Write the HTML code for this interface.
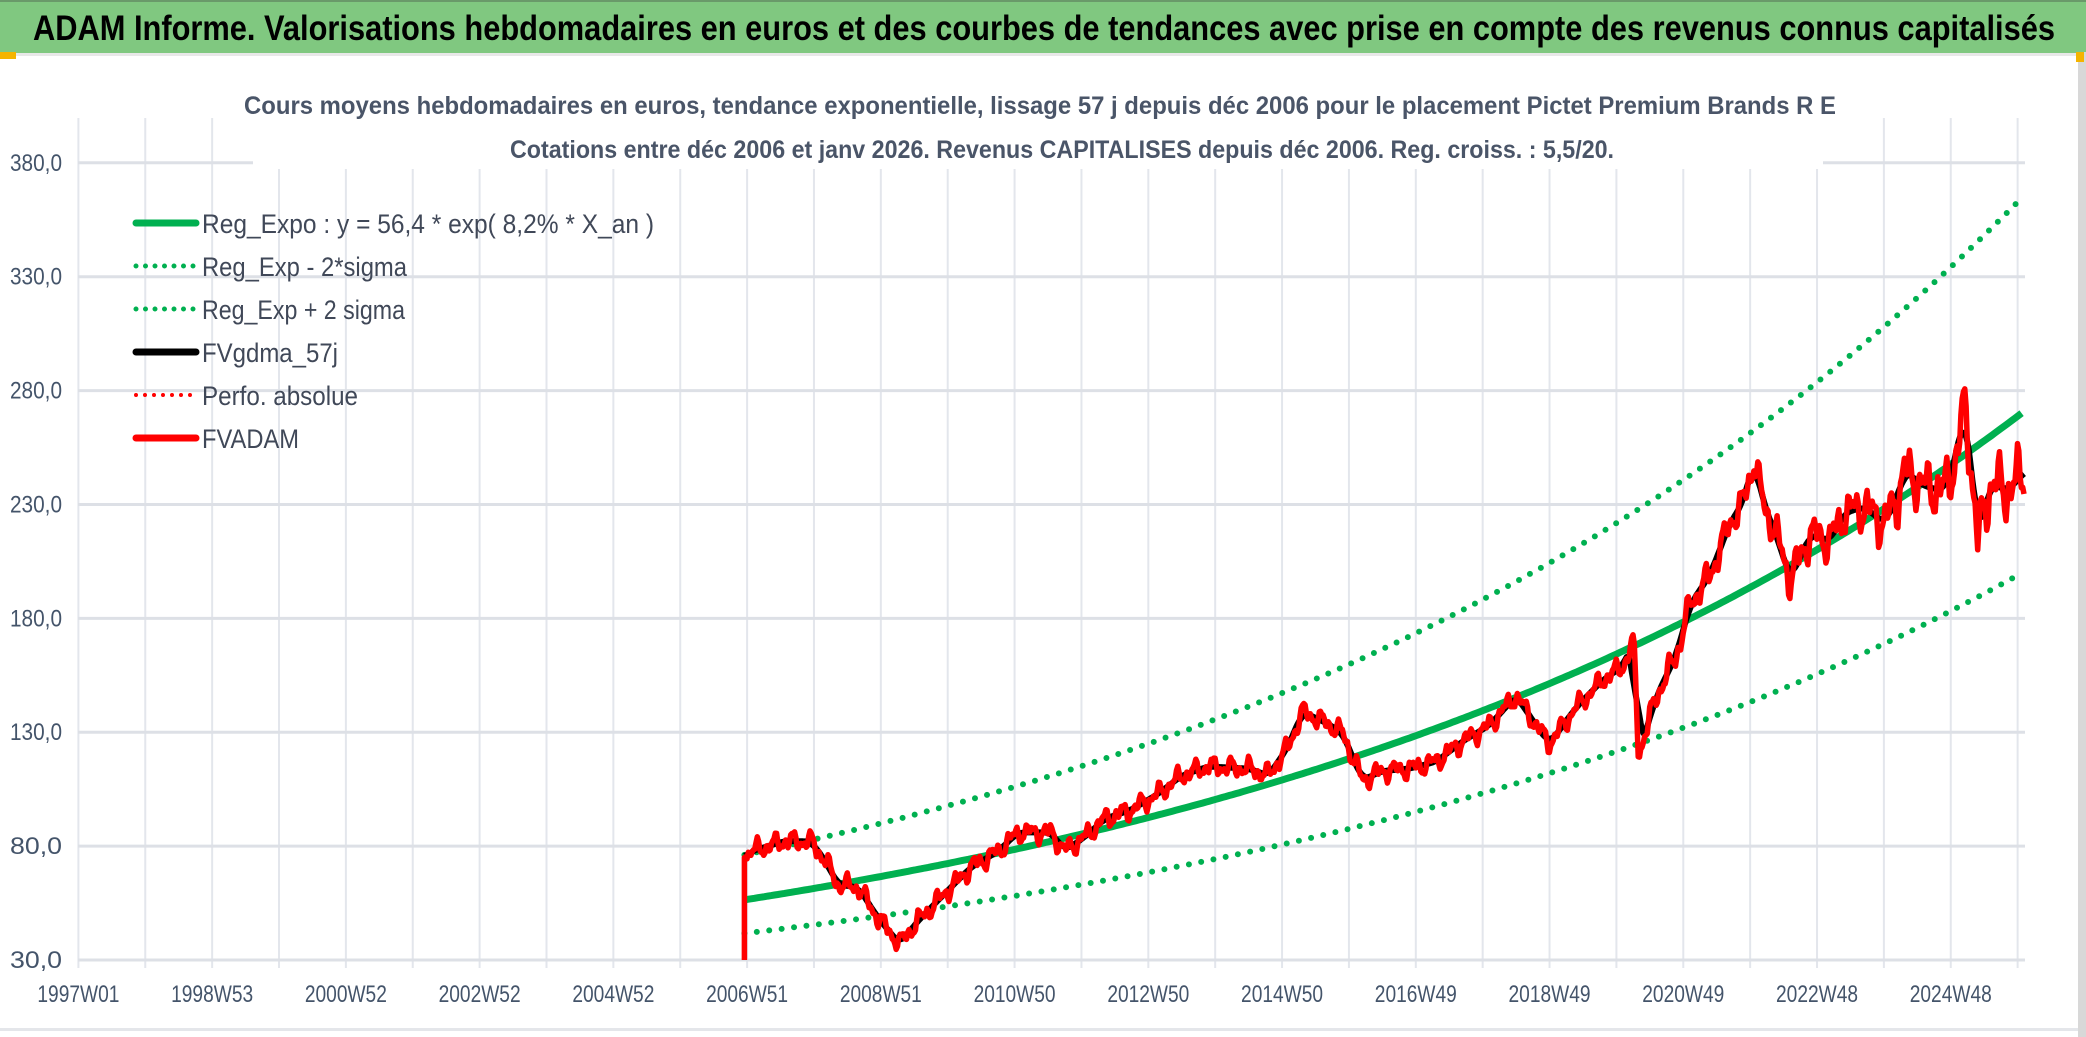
<!DOCTYPE html>
<html><head><meta charset="utf-8"><style>
html,body{margin:0;padding:0;background:#fff;}
svg{display:block;}
</style></head><body>
<svg id="c" width="2086" height="1037" xmlns="http://www.w3.org/2000/svg" font-family="'Liberation Sans', sans-serif">
<rect x="0" y="0" width="2086" height="1037" fill="#fff"/>
<rect x="0" y="0" width="2086" height="53" fill="#80C880"/>
<rect x="0" y="0" width="2086" height="2" fill="#6a9a6a"/>
<rect x="0" y="53" width="2080" height="3" fill="#e8e8e8"/>
<rect x="0" y="52" width="16" height="7" fill="#F4B400"/>
<rect x="2078" y="52" width="8" height="985" fill="#d8d8d8"/>
<rect x="2076" y="52" width="8" height="10" fill="#F4B400"/>
<rect x="0" y="1028" width="2078" height="3" fill="#e4e6ea"/>
<text x="33" y="40" font-size="35" font-weight="bold" fill="#000" textLength="2022" lengthAdjust="spacingAndGlyphs">ADAM Informe. Valorisations hebdomadaires en euros et des courbes de tendances avec prise en compte des revenus connus capitalisés</text>
<g id="grid"></g>
<rect x="253" y="95" width="1570" height="73" fill="#fff"/>
<text x="1040" y="114" font-size="25" font-weight="bold" fill="#4A5568" text-anchor="middle" textLength="1592" lengthAdjust="spacingAndGlyphs">Cours moyens hebdomadaires en euros, tendance exponentielle, lissage 57 j depuis déc 2006 pour le placement Pictet Premium Brands R E</text>
<text x="1062" y="158" font-size="25" font-weight="bold" fill="#4A5568" text-anchor="middle" textLength="1104" lengthAdjust="spacingAndGlyphs">Cotations entre déc 2006 et janv 2026. Revenus CAPITALISES depuis déc 2006. Reg. croiss. : 5,5/20.</text>
<g id="labels" font-size="24" fill="#44546A"></g>
<g id="series"></g>
<g font-size="25" fill="#404858">
<line x1="136" y1="223" x2="196" y2="223" stroke="#00B050" stroke-width="7" stroke-linecap="round"/>
<line x1="136" y1="266" x2="196" y2="266" stroke="#00B050" stroke-width="5" stroke-linecap="round" stroke-dasharray="0 9.5"/>
<line x1="136" y1="309" x2="196" y2="309" stroke="#00B050" stroke-width="5" stroke-linecap="round" stroke-dasharray="0 9.5"/>
<line x1="136" y1="352" x2="196" y2="352" stroke="#000" stroke-width="7" stroke-linecap="round"/>
<line x1="136" y1="395" x2="194" y2="395" stroke="#f00" stroke-width="4" stroke-linecap="round" stroke-dasharray="0 9"/>
<line x1="136" y1="438" x2="196" y2="438" stroke="#f00" stroke-width="7" stroke-linecap="round"/>
<text x="202" y="233" font-size="27" textLength="452" lengthAdjust="spacingAndGlyphs">Reg_Expo : y = 56,4 * exp( 8,2% *  X_an )</text>
<text x="202" y="276" font-size="27" textLength="205" lengthAdjust="spacingAndGlyphs">Reg_Exp - 2*sigma</text>
<text x="202" y="319" font-size="27" textLength="203" lengthAdjust="spacingAndGlyphs">Reg_Exp + 2 sigma</text>
<text x="202" y="362" font-size="27" textLength="136" lengthAdjust="spacingAndGlyphs">FVgdma_57j</text>
<text x="202" y="405" font-size="27" textLength="156" lengthAdjust="spacingAndGlyphs">Perfo. absolue</text>
<text x="202" y="448" font-size="27" textLength="97" lengthAdjust="spacingAndGlyphs">FVADAM</text>
</g>
</svg>
<script>
(function(){
var NS="http://www.w3.org/2000/svg";
function el(p,t,a,txt){var e=document.createElementNS(NS,t);for(var k in a)e.setAttribute(k,a[k]);if(txt!=null)e.textContent=txt;p.appendChild(e);return e;}
var grid=document.getElementById('grid'),labels=document.getElementById('labels'),ser=document.getElementById('series');
var X0=78.4,DX=66.87;
function X(yr){return X0+(yr-1997)*DX;}
function Y(v){return 960-(v-30)*2.2777;}
for(var i=0;i<=29;i++){var x=X0+i*DX;var top=(x<253||x>1823)?118:169;
 el(grid,'line',{x1:x,y1:top,x2:x,y2:968,stroke:'#E3E6EC','stroke-width':2});}
for(var j=0;j<=7;j++){var v=30+50*j,y=Y(v);var x1=78,x2=2025;
 if(j==7){el(grid,'line',{x1:78,y1:y,x2:253,y2:y,stroke:'#DDE0E6','stroke-width':3});el(grid,'line',{x1:1823,y1:y,x2:2025,y2:y,stroke:'#DDE0E6','stroke-width':3});}
 else el(grid,'line',{x1:x1,y1:y,x2:x2,y2:y,stroke:'#DDE0E6','stroke-width':3});
 el(labels,'text',{x:62,y:y+8,'text-anchor':'end',textLength:52,lengthAdjust:'spacingAndGlyphs'},v.toFixed(1).replace('.',','));}
var xl=['1997W01','1998W53','2000W52','2002W52','2004W52','2006W51','2008W51','2010W50','2012W50','2014W50','2016W49','2018W49','2020W49','2022W48','2024W48'];
for(var k=0;k<xl.length;k++){el(labels,'text',{x:X0+k*2*DX,y:1002,'text-anchor':'middle',textLength:82,lengthAdjust:'spacingAndGlyphs'},xl[k]);}
var t0=2006.96,t1=2026.1;
function reg(f){var d='';for(var t=t0;t<=t1+0.001;t+=0.05){d+=(d?'L':'M')+X(t).toFixed(1)+','+Y(f*56.4*Math.exp(0.082*(t-t0))).toFixed(1);}return d;}
el(ser,'path',{d:reg(0.74),fill:'none',stroke:'#00B050','stroke-width':6,'stroke-linecap':'round','stroke-dasharray':'0 12.5'});
el(ser,'path',{d:reg(1.35),fill:'none',stroke:'#00B050','stroke-width':6,'stroke-linecap':'round','stroke-dasharray':'0 12.5'});
el(ser,'path',{d:reg(1),fill:'none',stroke:'#00B050','stroke-width':7});
var K=[[2006.97,75],[2007.05,77.6],[2007.57,82.3],[2007.96,82],[2008.16,74],[2008.36,63],[2008.66,62],[2008.96,48.4],[2009.2,40],[2009.28,37],[2009.55,47],[2009.95,59],[2010.35,70.8],[2010.75,77.6],[2011.05,86],[2011.55,86],[2011.75,78],[2012.05,84],[2012.35,92],[2012.75,96],[2013.15,103],[2013.5,111],[2013.9,115],[2014.5,114],[2014.8,111],[2015.1,124],[2015.3,139],[2015.6,135],[2015.9,130],[2016.1,116],[2016.2,109],[2016.5,113],[2016.9,114],[2017.3,117],[2017.7,126],[2018.1,133],[2018.5,146],[2018.8,133],[2019.0,125],[2019.4,141],[2019.8,153],[2020.1,159],[2020.26,170],[2020.33,120],[2020.6,146],[2020.9,164],[2021.1,186],[2021.4,199],[2021.7,222],[2021.9,231],[2022.06,250],[2022.2,230],[2022.4,216],[2022.6,197],[2022.9,217],[2023.2,214],[2023.4,226],[2023.7,229],[2024.0,222],[2024.2,232],[2024.3,245],[2024.6,238],[2024.9,236],[2025.1,252],[2025.2,274],[2025.3,250],[2025.4,214],[2025.6,240],[2025.8,236],[2026.0,240],[2026.1,245]];
function base(t){if(t<=K[0][0])return K[0][1];for(var i=1;i<K.length;i++){if(t<=K[i][0]){var a=K[i-1],b=K[i];return a[1]+(b[1]-a[1])*(t-a[0])/(b[0]-a[0]);}}return K[K.length-1][1];}
function noise(t){var s=1+Math.max(0,(t-2020))*0.35;return s*(2.6*Math.sin(t*23)+2.0*Math.sin(t*47+1)+1.2*Math.sin(t*89+2));}
var dr='M'+X(t0).toFixed(1)+','+Y(30).toFixed(1),db='';
for(var t=t0;t<=t1+0.001;t+=1/52){
 var v=base(t)+(t>t0+0.02?noise(t):0);dr+='L'+X(t).toFixed(1)+','+Y(v).toFixed(1);
 var s=0,n=0;for(var u=-0.1;u<=0.1001;u+=0.02){var tt=Math.max(t0,Math.min(t1,t+u));s+=base(tt);n++;}
 db+=(db?'L':'M')+X(t).toFixed(1)+','+Y(s/n).toFixed(1);}
el(ser,'path',{d:db,fill:'none',stroke:'#000','stroke-width':6,'stroke-linejoin':'round'});
el(ser,'path',{d:dr,fill:'none',stroke:'#f00','stroke-width':5.5,'stroke-linejoin':'round'});
})();
</script>
</body></html>
